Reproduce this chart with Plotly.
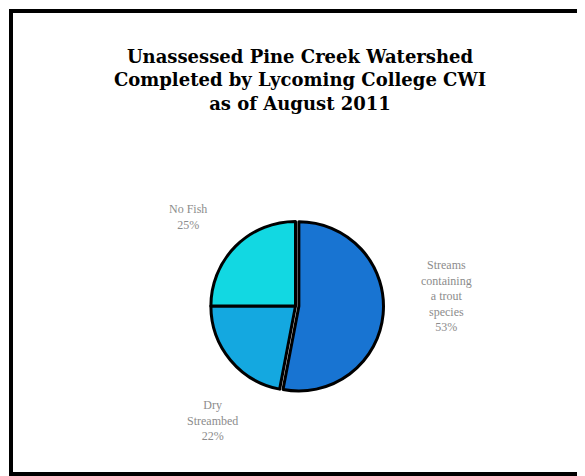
import plotly.graph_objects as go

categories = ["Streams<br>containing<br>a trout<br>species", "Dry<br>Streambed", "No Fish"]
values = [53, 22, 25]
colors = ["#1874d2", "#14a8e0", "#12d8e2"]

W, H = 585, 476
OFF = 8  # page body margin
cx, cy, r = 287.5, 298, 88

fig = go.Figure(go.Pie(
    labels=categories,
    values=values,
    sort=False,
    direction="clockwise",
    rotation=0,
    pull=[0.04, 0, 0],
    marker=dict(colors=colors, line=dict(color="black", width=3)),
    textinfo="none",
    showlegend=False,
    domain=dict(x=[(cx - r) / W, (cx + r) / W], y=[1 - (cy + r) / H, 1 - (cy - r) / H]),
))

# label centers in page pixels (x, y)
label_pos = [(446, 296), (212, 420), (188, 217)]
total = sum(values)
annotations = []
for cat, v, (lx, ly) in zip(categories, values, label_pos):
    annotations.append(dict(
        text=f"{cat}<br>{round(100 * v / total)}%",
        x=(lx - OFF) / W, y=1 - (ly - OFF) / H, xref="paper", yref="paper",
        xanchor="center", yanchor="middle", showarrow=False, align="center",
        font=dict(family="Liberation Serif", size=12, color="#8c8c8c"),
    ))

fig.update_layout(
    width=W, height=H,
    margin=dict(l=0, r=0, t=0, b=0),
    paper_bgcolor="white",
    title=dict(
        text="<b>Unassessed Pine Creek Watershed<br>Completed by Lycoming College CWI<br>as of August 2011</b>",
        x=(300 - OFF) / W, xanchor="center", y=1 - (63 - OFF) / H, yanchor="top",
        font=dict(family="DejaVu Serif", size=18, color="black"),
    ),
    annotations=annotations,
    shapes=[dict(type="rect", xref="paper", yref="paper",
                 x0=(11 - OFF) / W, x1=(584 - OFF) / W,
                 y0=1 - (474 - OFF) / H, y1=1 - (11 - OFF) / H,
                 line=dict(color="black", width=4))],
)

fig.write_html("out.html")
